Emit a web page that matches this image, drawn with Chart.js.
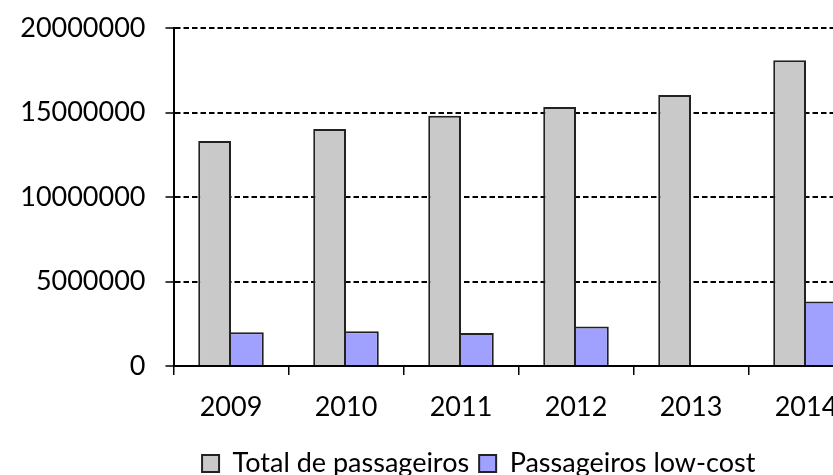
<!DOCTYPE html>
<html>
<head>
<meta charset="utf-8">
<title>Passageiros</title>
<script src="https://cdn.jsdelivr.net/npm/chart.js@4.4.1/dist/chart.umd.min.js"></script>
<style>
    html, body { margin: 0; padding: 0; background: #fff; overflow: hidden; }
    #wrap { position: absolute; left: 0; top: 0; width: 872px; height: 475px; }
</style>
</head>
<body>
<div id="wrap"><canvas id="passengerChart" width="872" height="475"></canvas></div>
<script>
// values
const years = ['2009', '2010', '2011', '2012', '2013', '2014'];
const totalPassengers = [13320000, 14020000, 14810000, 15320000, 16030000, 18090000];
const lowCostPassengers = [1990000, 2060000, 1960000, 2340000, 0, 3820000];
const yMax = 20000000;
const yStep = 5000000;

Chart.defaults.font.family = 'Lato, "Liberation Sans", sans-serif';
Chart.defaults.font.size = 27;
Chart.defaults.color = '#000';

// moves the legend block after layout, the original one is not centred on the canvas
const legendShift = {
    id: 'legendShift',
    afterLayout(chart, args, opts) {
        const lg = chart.legend;
        if (!lg) return;
        lg.left += opts.dx;
        lg.right += opts.dx;
        lg.top += opts.dy;
        lg.bottom += opts.dy;
    }
};

const ctx = document.getElementById('passengerChart').getContext('2d');

new Chart(ctx, {
    type: 'bar',
    data: {
        labels: years,
        datasets: [{
            label: 'Total de passageiros',
            data: totalPassengers,
            backgroundColor: '#c9c9c9',
            borderColor: '#222',
            borderWidth: { top: 2, left: 2, right: 2, bottom: 0 },
            barPercentage: 1,
            categoryPercentage: 0.57
        }, {
            label: 'Passageiros low-cost',
            data: lowCostPassengers,
            backgroundColor: '#a0a0ff',
            borderColor: '#222',
            borderWidth: { top: 2, left: 0, right: 2, bottom: 0 },
            barPercentage: 1,
            categoryPercentage: 0.57
        }]
    },
    plugins: [legendShift],
    options: {
        responsive: false,
        animation: false,
        layout: { padding: { left: 0, right: 8.5, top: 28, bottom: 4 } },
        plugins: {
            tooltip: { enabled: false },
            legendShift: { dx: 47, dy: 16 },
            legend: {
                position: 'bottom',
                labels: {
                    boxWidth: 17,
                    boxHeight: 17,
                    padding: 10,
                    color: '#000',
                    generateLabels: (chart) => Chart.defaults.plugins.legend.labels.generateLabels(chart)
                        .map(item => Object.assign(item, { lineWidth: 2, strokeStyle: '#222' }))
                }
            }
        },
        scales: {
            x: {
                grid: { display: true, drawOnChartArea: false, tickLength: 9, color: '#000', lineWidth: 1.5 },
                border: { display: true, color: '#000', width: 2 },
                ticks: { padding: 16, color: '#000' },
                afterFit(scale) { scale.height = 58; }
            },
            y: {
                min: 0,
                max: yMax,
                ticks: { stepSize: yStep, padding: 20, color: '#000', callback: v => String(v) },
                grid: { color: '#000', lineWidth: 2, tickLength: 8, tickColor: '#000', tickWidth: 1.5 },
                border: { display: true, color: '#000', width: 2, dash: [5.5, 3] },
                afterFit(scale) {
                    scale.width = 173.5;
                    // tick padding would otherwise push the plot top down
                    scale.paddingTop = 0;
                    scale.paddingBottom = 0;
                }
            }
        }
    }
});
</script>
</body>
</html>
